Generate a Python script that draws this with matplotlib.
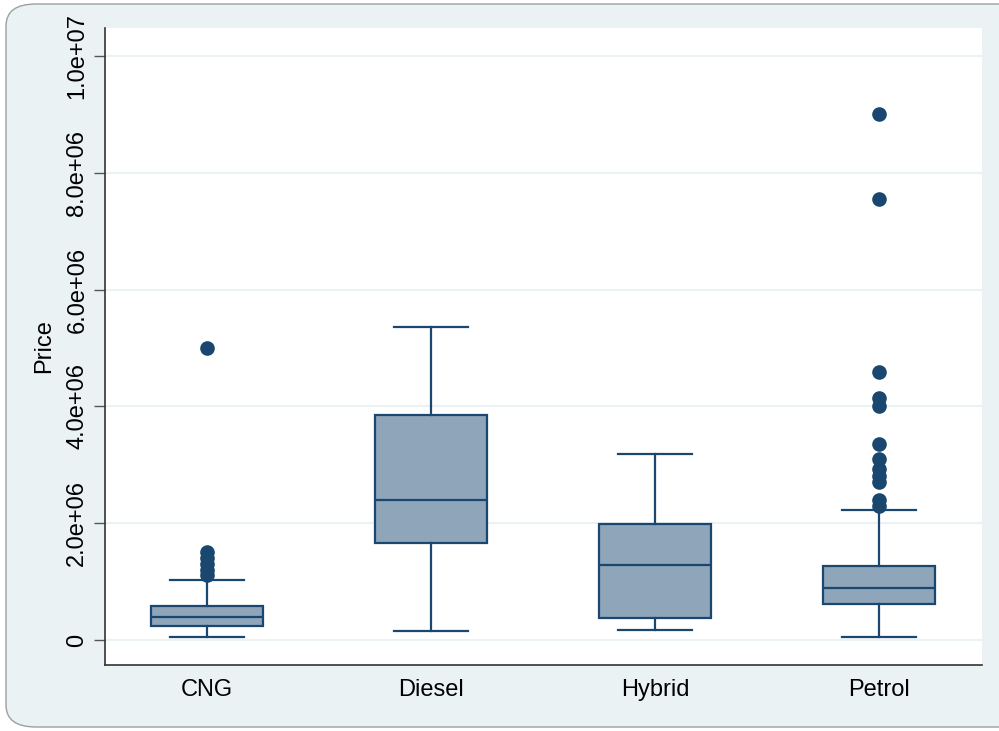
import matplotlib
matplotlib.use("Agg")
import matplotlib.pyplot as plt
from matplotlib.patches import FancyBboxPatch
from matplotlib.ticker import FuncFormatter

categories = ["CNG", "Diesel", "Hybrid", "Petrol"]
whislo = [0.05e6, 0.15e6, 0.17e6, 0.05e6]
q1 = [0.24e6, 1.66e6, 0.38e6, 0.62e6]
med = [0.39e6, 2.40e6, 1.28e6, 0.89e6]
q3 = [0.58e6, 3.85e6, 1.99e6, 1.27e6]
whishi = [1.03e6, 5.36e6, 3.18e6, 2.23e6]
outliers = [
    [1.50e6, 1.41e6, 1.31e6, 1.20e6, 1.11e6, 5.00e6],
    [],
    [],
    [9.00e6, 7.55e6, 4.59e6, 4.14e6, 4.01e6, 3.36e6, 3.10e6, 2.93e6, 2.81e6,
     2.70e6, 2.40e6, 2.29e6],
]
yticks = [0, 2e6, 4e6, 6e6, 8e6, 1e7]

navy = "#1a476f"
boxfill = "#8fa5ba"
bg = "#eaf2f3"

plt.rcParams["font.family"] = ["Liberation Sans", "DejaVu Sans"]

fig = plt.figure(figsize=(9.99, 7.31), dpi=100)
fig.patch.set_facecolor("white")
frame = FancyBboxPatch((6 / 999, 4 / 731), (1040 - 6) / 999, (727 - 4) / 731,
                       boxstyle="round,pad=0,rounding_size=0.03",
                       transform=fig.transFigure, facecolor=bg,
                       edgecolor="#9aa0a3", linewidth=1.0, zorder=-10)
fig.patches.append(frame)

ax = fig.add_axes([105 / 999, 66 / 731, (982 - 105) / 999, (665 - 28) / 731])
ax.set_zorder(5)
ax.set_facecolor("white")

stats = []
for i, c in enumerate(categories):
    stats.append(dict(label=c, whislo=whislo[i], q1=q1[i], med=med[i],
                      q3=q3[i], whishi=whishi[i], fliers=outliers[i]))

ax.bxp(stats, positions=[1, 2, 3, 4], widths=0.5, patch_artist=True,
       showfliers=True, capwidths=0.33,
       boxprops=dict(facecolor=boxfill, edgecolor=navy, linewidth=1.6),
       medianprops=dict(color=navy, linewidth=1.6),
       whiskerprops=dict(color=navy, linewidth=1.6),
       capprops=dict(color=navy, linewidth=1.6),
       flierprops=dict(marker="o", markerfacecolor=navy, markeredgecolor=navy,
                       markersize=9.5, linestyle="none"),
       zorder=3)

ax.set_xlim(0.545, 4.46)
ax.set_ylim(-0.428e6, 1.048e7)
ax.set_yticks(yticks)
ax.yaxis.set_major_formatter(FuncFormatter(lambda v, p: "0" if v == 0 else f"{v:.1e}"))
ax.grid(axis="y", color=bg, linewidth=1.5, zorder=0)
ax.set_axisbelow(True)

for s in ["top", "right"]:
    ax.spines[s].set_visible(False)
for s in ["left", "bottom"]:
    ax.spines[s].set_color("#333333")
    ax.spines[s].set_linewidth(1.2)

ax.tick_params(axis="y", length=8, width=1, color="#555555", labelsize=17,
               labelrotation=90, pad=4)
for lab in ax.get_yticklabels():
    lab.set_va("center")
ax.tick_params(axis="x", length=0, labelsize=17, pad=10)
ax.set_ylabel("Price", fontsize=17, labelpad=8)

fig.savefig("out.png", dpi=100, facecolor=fig.get_facecolor())
